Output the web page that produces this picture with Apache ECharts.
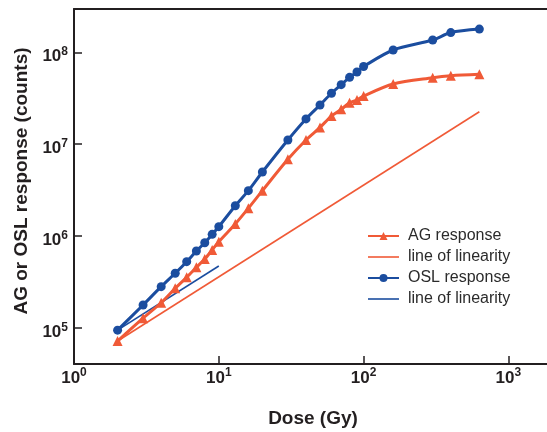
<!DOCTYPE html>
<html>
<head>
<meta charset="utf-8">
<script src="https://cdn.jsdelivr.net/npm/echarts@6/dist/echarts.min.js"></script>
<style>
html,body{margin:0;padding:0;background:#fff;}
#chart{width:547px;height:432px;}
</style>
</head>
<body>
<div id="chart"></div>
<script>
// Dose values (Gy)
const doses = [2, 3, 4, 5, 6, 7, 8, 9, 10, 13, 16, 20, 30, 40, 50, 60, 70, 80, 90, 100, 160, 300, 400, 630];
// AG response (counts)
const agResponse = [7.16e4, 1.27e5, 1.87e5, 2.69e5, 3.54e5, 4.55e5, 5.60e5, 7.02e5, 8.65e5, 1.35e6, 2.0e6, 3.11e6, 6.83e6, 1.11e7, 1.52e7, 2.02e7, 2.39e7, 2.82e7, 3.02e7, 3.34e7, 4.52e7, 5.29e7, 5.56e7, 5.76e7];
// OSL response (counts)
const oslResponse = [9.4e4, 1.77e5, 2.80e5, 3.92e5, 5.24e5, 6.84e5, 8.43e5, 1.04e6, 1.26e6, 2.13e6, 3.11e6, 4.97e6, 1.11e7, 1.88e7, 2.67e7, 3.58e7, 4.44e7, 5.34e7, 6.10e7, 7.0e7, 1.06e8, 1.36e8, 1.64e8, 1.79e8];
// Lines of linearity (endpoints)
const agLinDose = [2, 630];
const agLinValue = [7.16e4, 2.25e7];
const oslLinDose = [2, 10];
const oslLinValue = [9.4e4, 4.7e5];
// Tick values
const xTicks = [1, 10, 100, 1000];
const yTicks = [1e5, 1e6, 1e7, 1e8];
const legendNames = ['AG response', 'line of linearity', 'OSL response', 'line of linearity '];

const RED = '#f05a37';
const BLUE = '#1b4d9f';
const INK = '#231f20';
const FONT = 'Liberation Sans, Arial, sans-serif';
const LINE_ICON = 'path://M0,0L31,0L31,1.6L0,1.6Z';

function pairs(xs, ys) { return xs.map((x, i) => [x, ys[i]]); }
function powLabel(v) {
  const e = Math.round(Math.log10(v));
  return '{b|10}{s|' + e + '}';
}
const richLabel = {
  b: { fontSize: 17, fontWeight: 'bold', fontFamily: FONT, color: INK, lineHeight: 22 },
  s: { fontSize: 12, fontWeight: 'bold', fontFamily: FONT, color: INK, lineHeight: 12, verticalAlign: 'top' }
};

const chart = echarts.init(document.getElementById('chart'), null, { renderer: 'canvas' });
chart.setOption({
  animation: false,
  backgroundColor: '#fff',
  grid: { left: 74, top: 9, width: 478, height: 355, outerBoundsMode: 'none', containLabel: false },
  legend: {
    orient: 'vertical',
    left: 367, top: 226, padding: 0,
    itemWidth: 31, itemHeight: 10, itemGap: 1,
    data: [
      { name: legendNames[0] },
      { name: legendNames[1], icon: LINE_ICON },
      { name: legendNames[2] },
      { name: legendNames[3], icon: LINE_ICON }
    ],
    formatter: n => n.trim(),
    textStyle: { fontSize: 16, fontFamily: FONT, color: '#2b2b2b', lineHeight: 20, padding: [0, 0, 0, 4] },
    selectedMode: false
  },
  xAxis: [{
    type: 'log', logBase: 10, min: 1, max: 2000, position: 'bottom',
    name: 'Dose (Gy)', nameLocation: 'middle', nameGap: 45,
    nameTextStyle: { fontSize: 19, fontWeight: 'bold', fontFamily: FONT, color: INK },
    axisLine: { show: true, lineStyle: { color: INK, width: 2 } },
    axisTick: { show: true, inside: true, length: 8, customValues: xTicks, lineStyle: { color: INK, width: 1.5 } },
    axisLabel: { customValues: xTicks, margin: 3, formatter: powLabel, rich: richLabel },
    splitLine: { show: false }, minorTick: { show: false }
  }, {
    type: 'log', logBase: 10, min: 1, max: 2000, position: 'top',
    axisLine: { show: true, lineStyle: { color: INK, width: 2 } },
    axisTick: { show: false }, axisLabel: { show: false }, splitLine: { show: false }
  }],
  yAxis: {
    type: 'log', logBase: 10, min: 40240, max: 2.963e8,
    name: 'AG or OSL response (counts)', nameLocation: 'middle', nameGap: 41, nameRotate: 90,
    nameTextStyle: { fontSize: 19, fontWeight: 'bold', fontFamily: FONT, color: INK, padding: [0, 0, 0, 11] },
    axisLine: { show: true, lineStyle: { color: INK, width: 2 } },
    axisTick: { show: true, inside: true, length: 8, customValues: yTicks, lineStyle: { color: INK, width: 1.5 } },
    axisLabel: { customValues: yTicks, margin: 6, formatter: powLabel, rich: richLabel, padding: [9, 0, 0, 0] },
    splitLine: { show: false }, minorTick: { show: false }
  },
  series: [
    {
      name: legendNames[0], type: 'line', data: pairs(doses, agResponse),
      smooth: 0.3, symbol: 'triangle', symbolSize: 10,
      lineStyle: { color: RED, width: 3 }, itemStyle: { color: RED }, z: 3
    },
    {
      name: legendNames[1], type: 'line', data: pairs(agLinDose, agLinValue),
      symbol: 'none', lineStyle: { color: RED, width: 1.6 }, itemStyle: { color: RED }, z: 2
    },
    {
      name: legendNames[2], type: 'line', data: pairs(doses, oslResponse),
      smooth: 0.3, symbol: 'circle', symbolSize: 9,
      lineStyle: { color: BLUE, width: 3 }, itemStyle: { color: BLUE }, z: 3
    },
    {
      name: legendNames[3], type: 'line', data: pairs(oslLinDose, oslLinValue),
      symbol: 'none', lineStyle: { color: BLUE, width: 1.6 }, itemStyle: { color: BLUE }, z: 2
    }
  ]
});
</script>
</body>
</html>
